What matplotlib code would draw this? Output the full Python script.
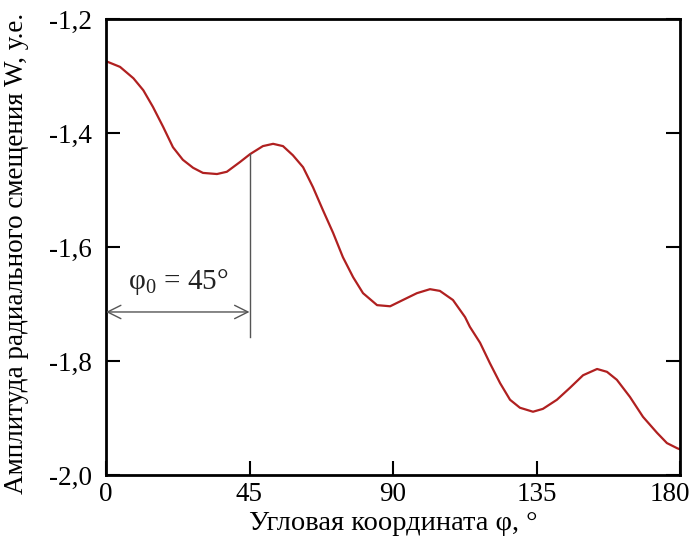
import matplotlib
matplotlib.use("Agg")
import matplotlib.pyplot as plt
from matplotlib.transforms import ScaledTranslation

plt.rcParams['font.family'] = ['Liberation Serif', 'DejaVu Serif']
plt.rcParams['mathtext.fontset'] = 'custom'
plt.rcParams['mathtext.rm'] = 'Liberation Serif'

# curve: angle (deg) and amplitude W
phi = [0, 4.4, 8.6, 11.7, 14.7, 17.9, 21.0, 24.1, 27.3, 30.4, 34.8, 37.9,
       42.0, 45.2, 49.2, 52.4, 55.5, 58.6, 61.8, 64.9, 68.0, 71.2, 74.3,
       77.5, 80.6, 85.0, 89.1, 93.1, 97.5, 101.6, 104.7, 108.8, 112.6,
       114.1, 117.3, 120.4, 123.6, 126.7, 129.8, 133.9, 137.0, 141.4,
       145.5, 149.6, 154.0, 157.1, 160.2, 164.3, 168.4, 172.8, 175.9,
       179.1, 180]
w = [-1.274, -1.284, -1.304, -1.325, -1.354, -1.389, -1.425, -1.447,
     -1.461, -1.470, -1.472, -1.468, -1.451, -1.437, -1.423, -1.419,
     -1.423, -1.439, -1.460, -1.495, -1.535, -1.575, -1.618, -1.653,
     -1.681, -1.702, -1.704, -1.693, -1.681, -1.674, -1.677, -1.693,
     -1.723, -1.740, -1.768, -1.804, -1.839, -1.868, -1.882, -1.889,
     -1.884, -1.868, -1.847, -1.825, -1.814, -1.819, -1.833, -1.863,
     -1.898, -1.926, -1.944, -1.953, -1.955]

x_ticks = [0, 45, 90, 135, 180]
y_ticks = [-2.0, -1.8, -1.6, -1.4, -1.2]
y_labels = ["-2,0", "-1,8", "-1,6", "-1,4", "-1,2"]

phi0 = 45
w_mark = -1.437
w_arrow = -1.714
w_line_end = -1.758

fig = plt.figure(figsize=(6.89, 5.39), dpi=100)
ax = fig.add_axes([106 / 689, 1 - 475 / 539, 574 / 689, 456 / 539])

ax.plot(phi, w, color="#b02020", lw=1.6)

# phi0 marker
ax.plot([phi0, phi0], [w_mark, w_line_end], color="#555555", lw=1.0)
ax.annotate("", xy=(0, w_arrow), xytext=(phi0, w_arrow),
            arrowprops=dict(arrowstyle="<->", color="#555555", lw=1.0,
                            shrinkA=0, shrinkB=0, mutation_scale=24))
ax.text(22.5, -1.662, r"φ$_\mathrm{0}$ = 45°", fontsize=21, ha="center",
        va="center", color="#222222")

ax.set_xlim(0, 180)
ax.set_ylim(-2.0, -1.2)
ax.set_xticks(x_ticks)
ax.set_yticks(y_ticks)
ax.set_yticklabels(y_labels)
ax.tick_params(direction="in", length=10, width=1.5, labelsize=19.5,
               right=True, top=False)
ax.tick_params(axis="y", pad=10)
ax.tick_params(axis="x", pad=5)
for s in ax.spines.values():
    s.set_linewidth(2.0)

# last x label sits a bit left so it stays inside the figure
last = ax.get_xticklabels()[-1]
last.set_transform(last.get_transform() +
                   ScaledTranslation(-10 / 100, 0, fig.dpi_scale_trans))

ax.set_xlabel("Угловая координата φ, °", fontsize=20.5, labelpad=3)
ax.set_ylabel("Амплитуда радиального смещения W, у.е.", fontsize=19.5)
ax.yaxis.set_label_coords(-0.135, 0.485)

fig.savefig("out.png", dpi=100)
